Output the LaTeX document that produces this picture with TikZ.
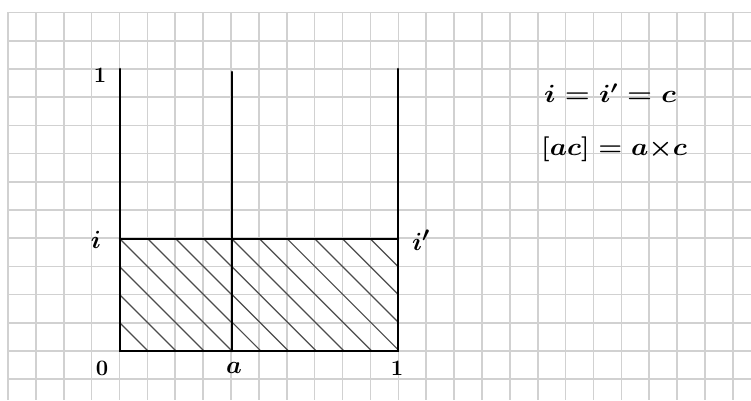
\documentclass[tikz,border=0pt]{standalone}
\usetikzlibrary{calc}
\begin{document}
\begin{tikzpicture}[x=1pt,y=-1pt,
  gridline/.style={draw=black!18,line width=1.6pt},
  axisline/.style={draw=black,line width=2.6pt,line cap=round},
  hatchline/.style={draw=black!70,line width=1.2pt},
  lbl/.style={font=\fontsize{22}{26}\selectfont\bfseries\boldmath,inner sep=0pt},
  letterlbl/.style={font=\fontsize{28}{32}\selectfont\boldmath,inner sep=0pt},
  formula/.style={font=\fontsize{24}{28}\selectfont\boldmath,inner sep=0pt}]
\useasboundingbox (0,0) rectangle (751,400);
\fill[white] (0,0) rectangle (751,400);
% grid paper
\foreach \k in {0,...,26} \draw[gridline] (8+\k*27.88,12) -- (8+\k*27.88,400);
\foreach \k in {0,...,13} \draw[gridline] (8,12.5+\k*28.2) -- (751,12.5+\k*28.2);
% key points
\coordinate (O) at (120,351);
\coordinate (A) at (232,351);
\coordinate (E) at (398,351);
\coordinate (Ltop) at (120,69);
\coordinate (Mtop) at (232,72);
\coordinate (Rtop) at (398,69);
\coordinate (I) at (120,239);
\coordinate (Am) at (232,239);
\coordinate (Ip) at (398,239);
% hatching
\begin{scope}
  \clip (I) rectangle (A);
  \foreach \k in {-4,...,4} \draw[hatchline] ([xshift=\k*28pt]I) -- ++(150,150);
\end{scope}
\begin{scope}
  \clip (Am) rectangle (E);
  \foreach \k in {-5,...,6} \draw[hatchline] ([xshift=\k*27.7pt]Am) -- ++(200,200);
\end{scope}
% axes and rectangle
\draw[axisline] (Ltop) -- (O) -- (E) -- (Rtop);
\draw[axisline] (Mtop) -- (A);
\draw[axisline] (I) -- (Ip);
% labels
\node[lbl] (one) at (100,75) {1};
\node[letterlbl] (li) at (96,240) {$i$};
\node[letterlbl] (lip) at (421,240) {$i'$};
\node[lbl] (zero) at (102,368) {0};
\node[letterlbl] (la) at (234,368) {$a$};
\node[lbl] (oneb) at (397,368) {1};
\node[formula,anchor=west] (f1) at (544,93) {\scalebox{1.15}[1]{$i = i' = c$}};
\node[formula,anchor=west] (f2) at (541,149) {\scalebox{1.1}[1]{$[ac] = a{\times}c$}};
\end{tikzpicture}
\end{document}
